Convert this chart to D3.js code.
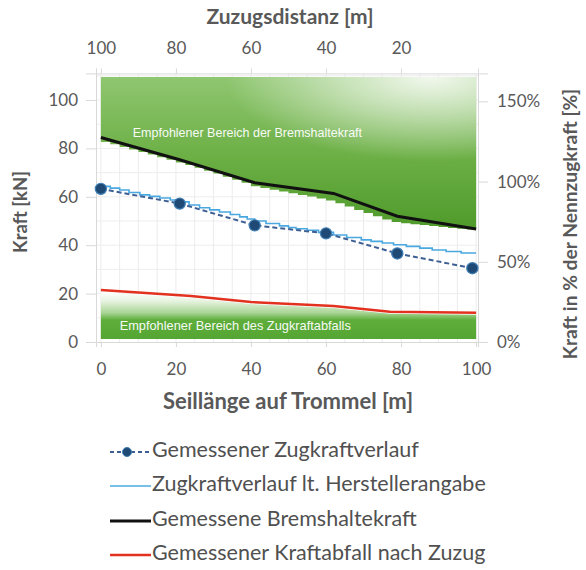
<!DOCTYPE html>
<html><head><meta charset="utf-8">
<script src="https://cdn.jsdelivr.net/npm/d3@7"></script>
<style>
html,body{margin:0;padding:0;background:#fff;}
svg{display:block;}
text{font-family:Lato,"Open Sans",sans-serif;}
</style></head>
<body>
<svg id="c" width="586" height="570"></svg>
<script>
// ---- data ----
const messX = [0, 21, 41, 60, 79, 99];
const zugkraftGemessen = [63.3, 57.2, 48.2, 44.9, 36.6, 30.5];
const herstX = [0, 2.5, 5, 7.5, 10.4, 13, 15.7, 18.5, 21, 23.5, 26.3, 29, 31.6, 34.5, 37, 39, 41, 44, 47.6, 50, 52, 55, 58, 62, 65.5, 69.4, 72, 75, 78, 81.4, 85, 88.3, 92, 96, 100];
const herstKN = [64.3, 63.6, 62.8, 61.8, 60.8, 60.2, 59.5, 58.7, 57.9, 56.6, 55.5, 54.6, 53.7, 52.7, 51.7, 50.8, 50, 49, 48, 47.3, 46.8, 46.2, 45.3, 44.2, 43.2, 42.2, 41.6, 40.9, 40.2, 39.5, 38.8, 38, 37.4, 36.8, 36.8];
const bremsX = [0, 21, 41, 62, 79, 100];
const bremsKN = [84.5, 75.3, 65.8, 61.4, 52, 46.7];
const abfallX = [0, 24, 40, 62, 77, 100];
const abfallKN = [21.5, 19.0, 16.5, 14.9, 12.5, 12.1];
const bandX = [0,2.5,5,7.5,10,12.5,15,17.5,20,22.5,25,27.5,30,32.5,35,37.5,40,42.5,45,47.5,50,52.5,55,57.5,60,62.5,65,67.5,70,72.5,75,77.5,80,82.5,85,87.5,90,92.5,95,97.5,100];
const bandLowKN = [82.6,81.7,80.6,79.6,78.5,77.5,76.4,75.3,74.2,73.1,72,70.8,69.6,68.3,67,65.8,64.4,63.6,62.9,62.2,61.5,60.8,60.1,59.3,58.5,57.3,56,54.6,53.3,52,50.6,49.6,49.1,48.7,48.3,47.9,47.5,47.1,46.8,46.5,46.3];
const bandTopKN = 109.5;
const lowBandBottomKN = 1.2;
const nennzugkraft = 66.3;
const yTicks = [0, 20, 40, 60, 80, 100];
const xTicks = [0, 20, 40, 60, 80, 100];
const topTicks = [100, 80, 60, 40, 20];
const pctTicks = [0, 0.5, 1, 1.5];
const legendLabels = ["Gemessener Zugkraftverlauf","Zugkraftverlauf lt. Herstellerangabe","Gemessene Bremshaltekraft","Gemessener Kraftabfall nach Zuzug"];

const svg = d3.select("#c");
const x = d3.scaleLinear().domain([-1.3, 100.5]).range([96, 478]);
const xTop = d3.scaleLinear().domain([101.3, -0.5]).range([96, 478]);
const y = d3.scaleLinear().domain([0, 111]).range([342, 73.4]);
const yR = d3.scaleLinear().domain([0, 111/nennzugkraft]).range([342, 73.4]);

const defs = svg.append("defs");
const g1 = defs.append("linearGradient").attr("id","gUp").attr("x1",0).attr("y1",1).attr("x2",0).attr("y2",0);
g1.append("stop").attr("offset","0%").attr("stop-color","#4f9a2b");
g1.append("stop").attr("offset","45%").attr("stop-color","#6aae43");
g1.append("stop").attr("offset","100%").attr("stop-color","#8fc670");
const r1 = defs.append("radialGradient").attr("id","gUpW").attr("cx",0.88).attr("cy",0.0).attr("r",0.55);
r1.append("stop").attr("offset","0%").attr("stop-color","#fff").attr("stop-opacity",0.88);
r1.append("stop").attr("offset","50%").attr("stop-color","#fff").attr("stop-opacity",0.45);
r1.append("stop").attr("offset","100%").attr("stop-color","#fff").attr("stop-opacity",0);
const g2 = defs.append("linearGradient").attr("id","gLow").attr("gradientUnits","userSpaceOnUse")
  .attr("x1",0).attr("y1",y(lowBandBottomKN)).attr("x2",0).attr("y2",y(21));
g2.append("stop").attr("offset","0%").attr("stop-color","#55a532");
g2.append("stop").attr("offset","40%").attr("stop-color","#5fae3c");
g2.append("stop").attr("offset","55%").attr("stop-color","#a9d595");
g2.append("stop").attr("offset","80%").attr("stop-color","#e8f4e2");
g2.append("stop").attr("offset","100%").attr("stop-color","#ffffff");

// grid
const grid = svg.append("g");
d3.range(0, 101, 5).forEach(v => grid.append("line").attr("x1",x(v)).attr("x2",x(v)).attr("y1",y(111)).attr("y2",y(0)).attr("stroke","#ececec").attr("stroke-width",1));
d3.range(10, 111, 10).forEach(v => grid.append("line").attr("x1",x(-1.3)).attr("x2",x(100.5)).attr("y1",y(v)).attr("y2",y(v)).attr("stroke","#ededed").attr("stroke-width",1));

// upper band
const bandData = bandX.map((v,i)=>({x:v, lo:bandLowKN[i]}));
const upArea = d3.area().x(d=>x(d.x)).y0(d=>y(d.lo)).y1(y(bandTopKN)).curve(d3.curveStepAfter);
svg.append("path").datum(bandData).attr("d",upArea).attr("fill","url(#gUp)");
svg.append("path").datum(bandData).attr("d",upArea).attr("fill","url(#gUpW)");

// lower band
const lowData = abfallX.map((v,i)=>({x:v, hi:abfallKN[i]-0.8}));
svg.append("path").datum(lowData)
  .attr("d", d3.area().x(d=>x(d.x)).y0(y(lowBandBottomKN)).y1(d=>y(d.hi)))
  .attr("fill","url(#gLow)");

// axes
const axStyle = g => {
  g.selectAll(".domain").attr("stroke","#d9d9d9");
  g.selectAll(".tick line").attr("stroke","#d9d9d9");
  g.selectAll("text").attr("fill","#595959").style("font-size","17px").style("font-family","Lato, 'Open Sans', sans-serif");
};
svg.append("g").attr("transform",`translate(0,${y(0)})`)
  .call(d3.axisBottom(x).tickValues(xTicks).tickSize(5).tickPadding(16)).call(axStyle);
svg.append("g").attr("transform",`translate(0,${y(111)})`)
  .call(d3.axisTop(xTop).tickValues(topTicks).tickSize(5).tickPadding(14)).call(axStyle);
svg.append("g").attr("transform",`translate(${x(-1.3)},0)`)
  .call(d3.axisLeft(y).tickValues(yTicks).tickSize(10).tickPadding(8)).call(axStyle);
svg.append("g").attr("transform",`translate(${x(100.5)},0)`)
  .call(d3.axisRight(yR).tickValues(pctTicks).tickFormat(d3.format(".0%")).tickSize(10).tickPadding(9)).call(axStyle);

// series lines
const line = d3.line().x(d=>x(d[0])).y(d=>y(d[1]));
svg.append("path").datum(abfallX.map((v,i)=>[v,abfallKN[i]])).attr("d",line)
  .attr("fill","none").attr("stroke","#e2321f").attr("stroke-width",2.6);
svg.append("path").datum(herstX.map((v,i)=>[v,herstKN[i]])).attr("d",d3.line().x(d=>x(d[0])).y(d=>y(d[1])).curve(d3.curveStepAfter))
  .attr("fill","none").attr("stroke","#4aa8e0").attr("stroke-width",1.6);
svg.append("path").datum(bremsX.map((v,i)=>[v,bremsKN[i]])).attr("d",line)
  .attr("fill","none").attr("stroke","#111").attr("stroke-width",3);
svg.append("path").datum(messX.map((v,i)=>[v,zugkraftGemessen[i]])).attr("d",line)
  .attr("fill","none").attr("stroke","#3d5f93").attr("stroke-width",2).attr("stroke-dasharray","5,3");
svg.selectAll(".dot").data(messX.map((v,i)=>[v,zugkraftGemessen[i]])).enter().append("circle")
  .attr("cx",d=>x(d[0])).attr("cy",d=>y(d[1])).attr("r",5.6)
  .attr("fill","#1f4a75").attr("stroke","#3f7fb5").attr("stroke-width",1.2);

// band labels
svg.append("text").attr("x",x(8.5)).attr("y",y(86)).text("Empfohlener Bereich der Bremshaltekraft")
  .attr("fill","#fff").style("font-family","'Liberation Sans', Arial, sans-serif").style("font-size","12.5px").attr("dominant-baseline","middle").attr("opacity",0.95);
svg.append("text").attr("x",x(5)).attr("y",y(6.2)).text("Empfohlener Bereich des Zugkraftabfalls")
  .attr("fill","#fff").style("font-family","'Liberation Sans', Arial, sans-serif").style("font-size","12.8px").attr("dominant-baseline","middle").attr("opacity",0.95);

// axis titles
const title = (t, tx, ty, rot, size) => svg.append("text").text(t)
  .attr("transform",`translate(${tx},${ty}) rotate(${rot})`).attr("text-anchor","middle").attr("dominant-baseline","middle")
  .attr("fill","#595959").style("font-weight","bold").style("font-size",size+"px");
title("Zuzugsdistanz [m]", 290, 19, 0, 21);
title("Seillänge auf Trommel [m]", 288, 403, 0, 22);
title("Kraft [kN]", 22, 212, -90, 18.5);
title("Kraft in % der Nennzugkraft [%]", 572, 224, -90, 19.2);

// legend
const ly = [452, 486, 521, 555];
const lg = svg.append("g");
lg.append("line").attr("x1",110).attr("x2",150).attr("y1",ly[0]).attr("y2",ly[0]).attr("stroke","#3d5f93").attr("stroke-width",2).attr("stroke-dasharray","4,3");
lg.append("circle").attr("cx",127).attr("cy",ly[0]).attr("r",4.5).attr("fill","#1f4a75").attr("stroke","#3f7fb5");
lg.append("line").attr("x1",110).attr("x2",151).attr("y1",ly[1]).attr("y2",ly[1]).attr("stroke","#4aa8e0").attr("stroke-width",1.6);
lg.append("line").attr("x1",110).attr("x2",151).attr("y1",ly[2]).attr("y2",ly[2]).attr("stroke","#111").attr("stroke-width",3);
lg.append("line").attr("x1",110).attr("x2",151).attr("y1",ly[3]).attr("y2",ly[3]).attr("stroke","#e2321f").attr("stroke-width",2.6);
legendLabels.forEach((t,i)=>lg.append("text").attr("x",152).attr("y",ly[i]).text(t)
  .attr("dominant-baseline","middle").attr("fill","#505050").style("font-size","21.5px"));
</script>
</body></html>
